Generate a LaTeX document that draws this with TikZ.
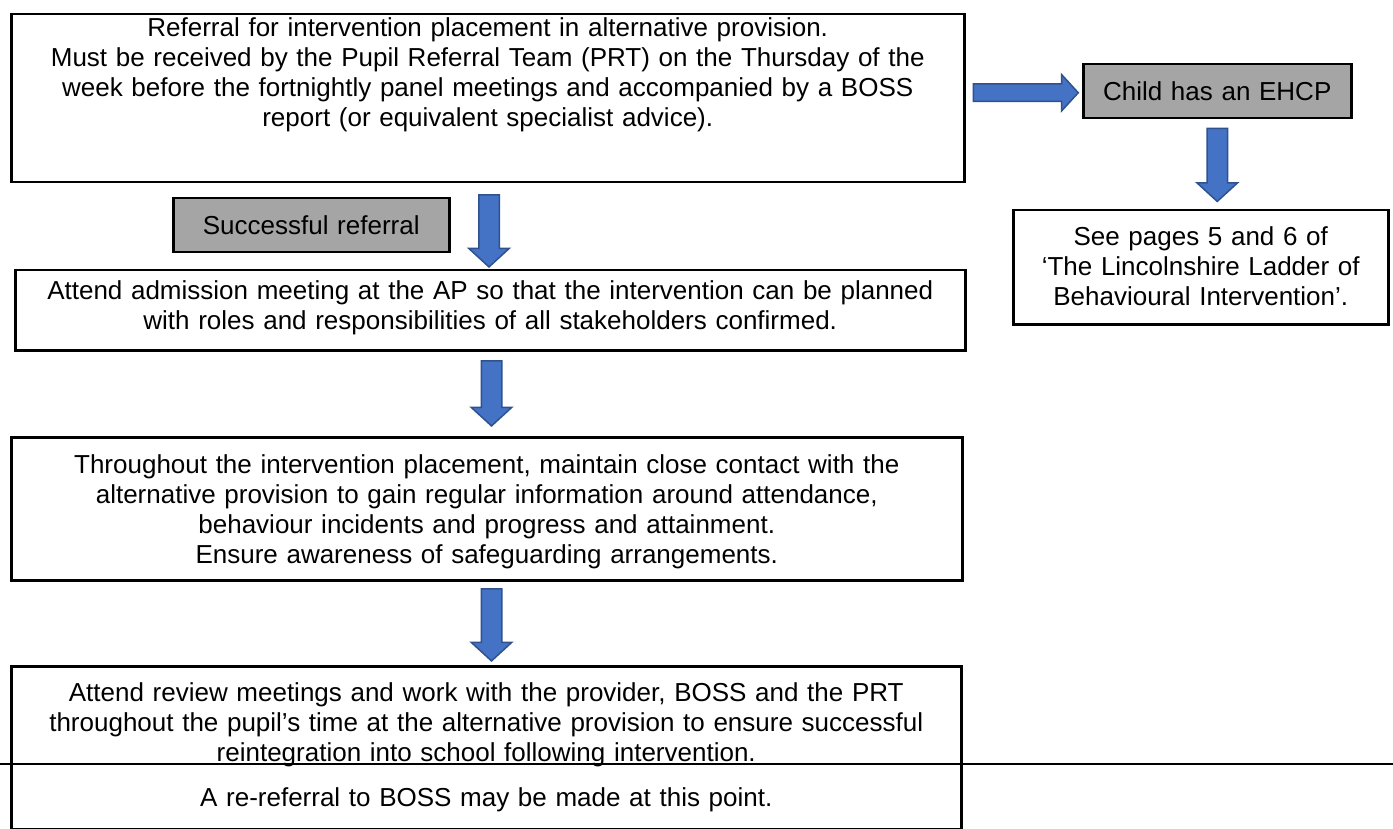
\documentclass[tikz,border=0pt]{standalone}
\usepackage{fontspec}
\setmainfont{Liberation Sans}
\usetikzlibrary{shapes.arrows, calc, positioning}

\definecolor{arrowblue}{HTML}{4472C4}
\definecolor{arrowedge}{HTML}{2F528F}
\definecolor{panelgrey}{HTML}{A5A5A5}

\tikzset{
  stagebox/.style={draw, line width=2.5pt, anchor=north west, align=center, inner sep=0pt,
                   font=\fontsize{26}{30}\selectfont},
  greybox/.style={stagebox, fill=panelgrey},
  boxdims/.style n args={3}{text width=#1, text height=#2, text depth=#3},
  blockarrow/.style={single arrow, draw=arrowedge, fill=arrowblue, line width=1.5pt,
                     inner xsep=0pt, inner ysep=9.5pt, minimum width=39pt,
                     single arrow head extend=10pt, single arrow tip angle=95},
}

\begin{document}
\begin{tikzpicture}[x=1pt, y=-1pt]

        % page frame, pixel units with y going down
        \useasboundingbox (0,0) rectangle (1393,829);

        % left column of stages
        \node[stagebox, boxdims={953pt}{22.5pt}{145.5pt}] (referral) at (10,13)
             {Referral for intervention placement in alternative provision.\\
              Must be received by the Pupil Referral Team (PRT) on the Thursday of the\\
              week before the fortnightly panel meetings and accompanied by a BOSS\\
              report (or equivalent specialist advice).};

        \node[greybox, boxdims={276pt}{36pt}{18pt}] (success) at (172,197) {Successful referral};

        \node[stagebox, boxdims={950pt}{29.5pt}{50.5pt}] (admission) at (14,269)
             {Attend admission meeting at the AP so that the intervention can be planned\\
              with roles and responsibilities of all stakeholders confirmed.};

        \node[stagebox, boxdims={951pt}{36.5pt}{106.5pt}] (contact) at (10,436)
             {Throughout the intervention placement, maintain close contact with the\\
              alternative provision to gain regular information around attendance,\\
              behaviour incidents and progress and attainment.\\
              Ensure awareness of safeguarding arrangements.};

        \node[stagebox, boxdims={950pt}{35.5pt}{127.5pt}] (review) at (10,665)
             {Attend review meetings and work with the provider, BOSS and the PRT\\
              throughout the pupil's time at the alternative provision to ensure successful\\
              reintegration into school following intervention.\\[15pt]
              A re-referral to BOSS may be made at this point.};

        % right column
        \node[greybox, boxdims={268pt}{36pt}{18pt}] (ehcp) at (1082,63) {Child has an EHCP};

        \node[stagebox, boxdims={375pt}{35pt}{79pt}] (ladder) at (1012,209)
             {See pages 5 and 6 of\\
              `The Lincolnshire Ladder of\\
              Behavioural Intervention'.};

        % stray rule across the page
        \draw[line width=2.5pt] (0,764) -- (1393,764);

        % block arrows, nudged a little off the gap centres
        \node[blockarrow, minimum height=105pt, inner ysep=8pt, minimum width=35pt,
              single arrow head extend=9.5pt] (toehcp) at ($(referral.east)!.5!(ehcp.west)+(-2,-2)$) {};
        \node[blockarrow, minimum height=72pt, rotate=-90] (toadmission) at ($(referral.south)!.5!(admission.north)$) {};
        \node[blockarrow, minimum height=65pt, rotate=-90] (tocontact) at ($(admission.south)!.5!(contact.north)+(3,-5)$) {};
        \node[blockarrow, minimum height=72pt, rotate=-90] (toreview) at ($(contact.south)!.5!(review.north)+(5,-3)$) {};
        \node[blockarrow, minimum height=73pt, rotate=-90] (toladder) at ($(ehcp.south)!.5!(ehcp.south |- ladder.north)+(0,-4)$) {};

\end{tikzpicture}
\end{document}
